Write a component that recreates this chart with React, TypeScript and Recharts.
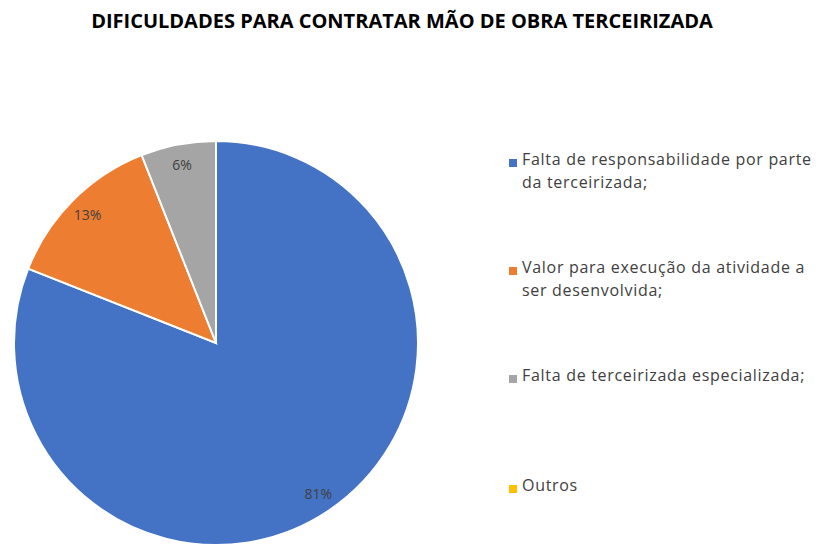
import { PieChart, Pie, Cell, Legend } from "recharts";

const categories = [
  "Falta de responsabilidade por parte da terceirizada;",
  "Valor para execução da atividade a ser desenvolvida;",
  "Falta de terceirizada especializada;",
  "Outros",
];
const legendLines = [
  ["Falta de responsabilidade por parte", "da terceirizada;"],
  ["Valor para execução da atividade a", "ser desenvolvida;"],
  ["Falta de terceirizada especializada;"],
  ["Outros"],
];
const values = [81, 13, 6, 0];
const colors = ["#4472C4", "#ED7D31", "#A5A5A5", "#FFC000"];
const legendTops = [0, 108, 216, 326];

const data = categories.map((name, i) => ({ name, value: values[i] }));

const RAD = Math.PI / 180;

const renderLabel = (props: any) => {
  const { cx, cy, midAngle, outerRadius, value } = props;
  if (!value) return null;
  const r = outerRadius * 0.9;
  const x = cx + r * Math.cos(-midAngle * RAD);
  const y = cy + r * Math.sin(-midAngle * RAD);
  return (
    <text
      x={x}
      y={y}
      textAnchor="middle"
      dominantBaseline="central"
      fontSize={14}
      fill="#404040"
      fontFamily="'Open Sans', sans-serif"
    >
      {value}%
    </text>
  );
};

const LegendContent = () => (
  <div style={{ fontFamily: "'Open Sans', sans-serif", fontSize: 16, color: "#404040", letterSpacing: 0.7 }}>
    {legendLines.map((lines, i) => (
      <div
        key={i}
        style={{ position: "absolute", left: 0, top: legendTops[i], display: "flex" }}
      >
        <div
          style={{
            width: 8,
            height: 8,
            background: colors[i],
            marginTop: 7,
            marginRight: 5,
            flexShrink: 0,
          }}
        />
        <div style={{ lineHeight: "23px", whiteSpace: "nowrap", marginTop: -4 }}>
          {lines.map((l, j) => (
            <div key={j}>{l}</div>
          ))}
        </div>
      </div>
    ))}
  </div>
);

export default function App() {
  return (
    <div
      style={{
        position: "absolute",
        left: 0,
        top: 0,
        width: 820,
        height: 545,
        background: "#fff",
        overflow: "hidden",
      }}
    >
      <div
        style={{
          position: "absolute",
          top: 7,
          left: -8,
          width: 820,
          textAlign: "center",
          fontFamily: "'Open Sans', sans-serif",
          fontWeight: 700,
          fontSize: 20,
          color: "#000",
          letterSpacing: 0,
        }}
      >
        DIFICULDADES PARA CONTRATAR MÃO DE OBRA TERCEIRIZADA
      </div>
      <PieChart
        width={820}
        height={545}
        margin={{ top: 0, right: 0, bottom: 0, left: 0 }}
        style={{ position: "absolute", left: 0, top: 0 }}
      >
        <Pie
          data={data}
          dataKey="value"
          nameKey="name"
          cx={216}
          cy={343}
          outerRadius={202}
          startAngle={90}
          endAngle={-270}
          stroke="#fff"
          strokeWidth={2}
          label={renderLabel}
          labelLine={false}
          isAnimationActive={false}
        >
          {data.map((d, i) => (
            <Cell key={d.name} fill={colors[i]} />
          ))}
        </Pie>
        <Legend
          content={<LegendContent />}
          wrapperStyle={{ position: "absolute", left: 509, top: 152, width: 310 }}
        />
      </PieChart>
    </div>
  );
}
